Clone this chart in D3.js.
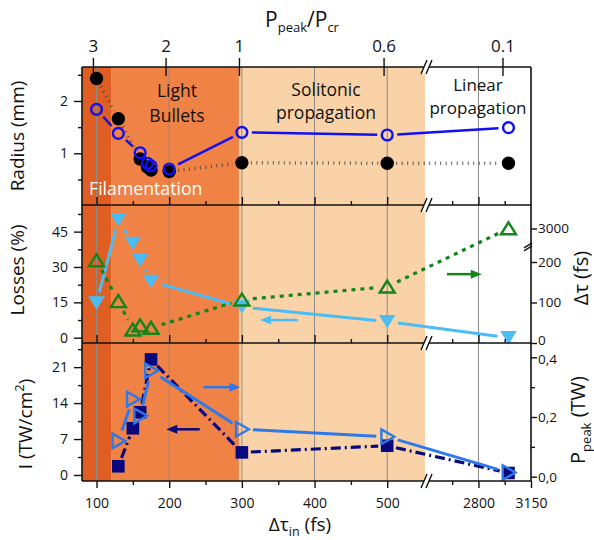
<!DOCTYPE html>
<html><head><meta charset="utf-8">
<script src="https://cdn.jsdelivr.net/npm/d3@7"></script>
<style>
body{margin:0;background:#fff}
svg{display:block}
text{font-family:"Open Sans",sans-serif;fill:#111}
</style>
</head><body>
<svg id="c" width="594" height="540"></svg>
<script>
// ---------------- data ----------------
// top panel: beam radius (mm)
const tRadius      = [100, 130, 160, 170, 175, 200, 300, 500, 3000];
const radiusBlack  = [2.43, 1.66, 0.89, 0.74, 0.68, 0.65, 0.82, 0.81, 0.81];
const radiusBlue   = [1.84, 1.38, 1.01, 0.81, 0.76, 0.70, 1.40, 1.35, 1.49];
// middle panel: losses (%) and output duration (fs)
const tMid         = [100, 130, 150, 160, 175, 300, 500, 3000];
const losses       = [14.7, 50.0, 40.0, 32.8, 23.9, 13.0, 6.8, 0.0];
const dtauOut      = [204, 103, 33, 43, 37, 107, 139, 3000];
// bottom panel: intensity (TW/cm2) and peak power (TW)
const tBot         = [130, 150, 160, 175, 300, 500, 3000];
const intensity    = [1.7, 9.1, 12.2, 22.5, 4.4, 5.7, 0.39];
const ppeak        = [0.12, 0.26, 0.204, 0.355, 0.159, 0.134, 0.014];
// axes ticks
const xMajor       = [100, 200, 300, 400, 500, 2800, 3150];
const xMinor       = [150, 250, 350, 450, 2625, 2975];
const gridT        = [100, 200, 300, 400, 500, 2800];
const pTopT        = [95, 195, 296, 495, 2960];
const pTopLabels   = ["3", "2", "1", "0.6", "0.1"];
const radiusTicks  = [1, 2];
const radiusMinor  = [0.5, 1.5, 2.5];
const lossTicks    = [0, 15, 30, 45];
const lossMinor    = [7.5, 22.5, 37.5, 52.5];
const dtauTicks    = [0, 100, 200, 3000];
const iTicks       = [0, 7, 14, 21];
const iMinor       = [3.5, 10.5, 17.5, 24.5];
const pTicks       = [0, 0.2, 0.4];
const pMinor       = [0.1, 0.3];
// regions
const regionStart  = [80, 120, 296];
const regionEnd    = [120, 296, 552];
const regionColor  = ["#E05E22", "#EF8244", "#F9D3A7"];

// ---------------- layout / scales ----------------
const X0 = 82, X1 = 531, T0 = 67, B1 = 205, B2 = 343, B3 = 481;
const svg = d3.select("#c");
const x  = d3.scaleLinear().domain([80, 552, 2444, 3150]).range([82, 425, 425, 531]);
const yR = d3.scaleLinear().domain([0, 2.64]).range([205.6, 67.5]);
const yL = d3.scaleLinear().domain([-2.25, 56.3]).range([343, 205]);
const yD = d3.scaleLinear().domain([0, 240, 2958, 3057]).range([343, 245.8, 245.8, 205]);
const yI = d3.scaleLinear().domain([-1.17, 25.7]).range([481, 343]);
const yP = d3.scaleLinear().domain([-0.0144, 0.448]).range([481, 343]);

const C = {
  blue: "#1010F2", black: "#000", light: "#4CBDF4", green: "#12861A",
  navy: "#08087E", tri: "#2E79EA"
};
const plain = (d) => String(d);

// backgrounds
svg.append("g").selectAll("rect").data(regionStart).join("rect")
  .attr("x", (d) => x(d)).attr("y", T0)
  .attr("width", (d, i) => x(regionEnd[i]) - x(d)).attr("height", B3 - T0)
  .attr("fill", (d, i) => regionColor[i]);

// grid lines
svg.append("g").selectAll("line").data(gridT).join("line")
  .attr("x1", (d) => x(d)).attr("x2", (d) => x(d)).attr("y1", T0).attr("y2", B3)
  .attr("stroke", "#8c8c8c").attr("stroke-width", 1);

// region texts
function label(lines, cx, y0, dy, size, color) {
  const t = svg.append("text").attr("text-anchor", "middle")
    .attr("font-size", size).style("fill", color || "#111");
  lines.forEach((s, i) => t.append("tspan").attr("x", cx).attr("y", y0 + i * dy).text(s));
}
label(["Light", "Bullets"], 177, 97, 25, 17.5);
label(["Solitonic", "propagation"], 326, 96, 23, 17.5);
label(["Linear", "propagation"], 478, 91, 23, 17);
svg.append("text").attr("x", 89).attr("y", 195).attr("font-size", 17.7)
  .style("fill", "#fff").text("Filamentation");

// ---------------- helpers ----------------
function gapLine(ts, vs, ys, gap, stroke, width, dash, dashOpacity) {
  const pts = ts.map((t, i) => [x(t), ys(vs[i])]);
  const g = svg.append("g");
  for (let i = 0; i < pts.length - 1; i++) {
    const [x1, y1] = pts[i], [x2, y2] = pts[i + 1];
    const L = Math.hypot(x2 - x1, y2 - y1);
    if (L <= 2 * gap + 1) continue;
    const ux = (x2 - x1) / L, uy = (y2 - y1) / L;
    g.append("line")
      .attr("x1", x1 + ux * gap).attr("y1", y1 + uy * gap)
      .attr("x2", x2 - ux * gap).attr("y2", y2 - uy * gap)
      .attr("stroke", stroke).attr("stroke-width", width)
      .attr("stroke-dasharray", dash || null)
      .attr("stroke-opacity", dashOpacity || 1);
  }
}
function arrow(t1, v1, t2, v2, ys, color) {
  const x1 = x(t1), y1 = ys(v1), x2 = x(t2), y2 = ys(v2);
  const dir = Math.sign(x2 - x1);
  svg.append("line").attr("x1", x1).attr("y1", y1).attr("x2", x2 - dir * 8).attr("y2", y2)
    .attr("stroke", color).attr("stroke-width", 2.5);
  svg.append("path")
    .attr("d", `M${x2},${y2} L${x2 - dir * 11},${y2 - 4.5} L${x2 - dir * 11},${y2 + 4.5} Z`)
    .attr("fill", color);
}

// ---------------- top panel ----------------
gapLine(tRadius, radiusBlack, yR, 9, "#444", 3.5, "1,4.5", 0.85);
gapLine(tRadius, radiusBlue, yR, 10, C.blue, 2.5);
svg.append("g").selectAll("circle").data(tRadius).join("circle")
  .attr("cx", (d) => x(d)).attr("cy", (d, i) => yR(radiusBlack[i])).attr("r", 6.7)
  .attr("fill", C.black);
svg.append("g").selectAll("circle").data(tRadius).join("circle")
  .attr("cx", (d) => x(d)).attr("cy", (d, i) => yR(radiusBlue[i])).attr("r", 5.4)
  .attr("fill", "none").attr("stroke", C.blue).attr("stroke-width", 2.4);

// ---------------- middle panel ----------------
gapLine(tMid, losses, yL, 11, C.light, 3);
gapLine(tMid, dtauOut, yD, 11, C.green, 3.2, "4,5");
svg.append("g").selectAll("path").data(tMid).join("path")
  .attr("transform", (d, i) => `translate(${x(d)},${yL(losses[i])})`)
  .attr("d", "M-8.3,-6.7 L8.3,-6.7 L0,6.7 Z").attr("fill", C.light);
svg.append("g").selectAll("path").data(tMid).join("path")
  .attr("transform", (d, i) => `translate(${x(d)},${yD(dtauOut[i])})`)
  .attr("d", "M-7.5,5.8 L7.5,5.8 L0,-6.2 Z").attr("fill", "none")
  .attr("stroke", C.green).attr("stroke-width", 2.4).attr("stroke-linejoin", "miter");
arrow(377, 7.5, 325, 7.5, yL, C.light);
arrow(2590, 170, 2822, 170, yD, C.green);

// ---------------- bottom panel ----------------
gapLine(tBot, intensity, yI, 9, C.navy, 3.2, "10,4,2,4");
gapLine(tBot, ppeak, yP, 11, C.tri, 3);
svg.append("g").selectAll("rect").data(tBot).join("rect")
  .attr("x", (d) => x(d) - 6.3).attr("y", (d, i) => yI(intensity[i]) - 6.3)
  .attr("width", 12.6).attr("height", 12.6).attr("fill", C.navy);
svg.append("g").selectAll("path").data(tBot).join("path")
  .attr("transform", (d, i) => `translate(${x(d)},${yP(ppeak[i])})`)
  .attr("d", "M-5.8,-7.3 L-5.8,7.3 L7,0 Z").attr("fill", "none")
  .attr("stroke", C.tri).attr("stroke-width", 2.4);
arrow(247, 0.30, 298, 0.30, yP, C.tri);
arrow(242, 8.9, 196, 8.9, yI, C.navy);

// ---------------- axes ----------------
function styleAxis(g, size) {
  g.select(".domain").remove();
  g.selectAll(".tick line").attr("stroke", "#111").attr("stroke-width", 1.4);
  g.selectAll(".tick text").attr("font-size", size || 14).style("fill", "#111")
    .attr("font-family", '"Open Sans",sans-serif');
  return g;
}
function leftAxis(scale, major, minor) {
  styleAxis(svg.append("g").attr("transform", `translate(${X0},0)`)
    .call(d3.axisLeft(scale).tickValues(major).tickSize(8).tickPadding(6).tickFormat(plain)));
  styleAxis(svg.append("g").attr("transform", `translate(${X0},0)`)
    .call(d3.axisLeft(scale).tickValues(minor).tickSize(4).tickFormat("")));
}
leftAxis(yR, radiusTicks, radiusMinor);
leftAxis(yL, lossTicks, lossMinor);
leftAxis(yI, iTicks, iMinor);

const dAx = styleAxis(svg.append("g").attr("transform", `translate(${X1},0)`)
  .call(d3.axisRight(yD).tickValues(dtauTicks).tickSize(6).tickPadding(1).tickFormat(plain)), 13.5);
dAx.selectAll(".tick text").filter((d) => d === 0).attr("dy", "0.1em");
const pAx = styleAxis(svg.append("g").attr("transform", `translate(${X1},0)`)
  .call(d3.axisRight(yP).tickValues(pTicks).tickSize(6).tickPadding(1)
    .tickFormat((d) => d3.format(".1f")(d).replace(".", ","))), 13.5);
pAx.selectAll(".tick text").filter((d) => d === 0.4).attr("dy", "0.45em");
styleAxis(svg.append("g").attr("transform", `translate(${X1},0)`)
  .call(d3.axisRight(yP).tickValues(pMinor).tickSize(4).tickFormat("")));

// x ticks inward on the panel separators
[B1, B2].forEach((yy) => {
  styleAxis(svg.append("g").attr("transform", `translate(0,${yy})`)
    .call(d3.axisTop(x).tickValues(xMajor.slice(0, 6)).tickSize(8).tickFormat("")));
  styleAxis(svg.append("g").attr("transform", `translate(0,${yy})`)
    .call(d3.axisTop(x).tickValues(xMinor).tickSize(4).tickFormat("")));
});
// bottom axis
styleAxis(svg.append("g").attr("transform", `translate(0,${B3})`)
  .call(d3.axisBottom(x).tickValues(xMajor).tickSize(7).tickPadding(10).tickFormat(plain)));
styleAxis(svg.append("g").attr("transform", `translate(0,${B3})`)
  .call(d3.axisBottom(x).tickValues(xMinor).tickSize(4).tickFormat("")));
// top axis P_peak / P_cr
styleAxis(svg.append("g").attr("transform", `translate(0,${T0})`)
  .call(d3.axisTop(x).tickValues(pTopT).tickSize(9).tickPadding(6)
    .tickFormat((d, i) => pTopLabels[i])), 17);
styleAxis(svg.append("g").attr("transform", `translate(0,${T0})`)
  .call(d3.axisBottom(x).tickValues(pTopT).tickSize(9).tickFormat("")));

// frame
const frame = svg.append("g").attr("stroke", "#111").attr("stroke-width", 1.6);
[T0, B1, B2, B3].forEach((yy) =>
  frame.append("line").attr("x1", X0).attr("x2", X1).attr("y1", yy).attr("y2", yy));
frame.append("line").attr("x1", X0).attr("x2", X0).attr("y1", T0).attr("y2", B3);
frame.append("line").attr("x1", X1).attr("x2", X1).attr("y1", T0).attr("y2", B3);

// break marks on x axes
[T0, B1, B2, B3].forEach((yy) => {
  const cx = x(552) + 3;
  svg.append("path").attr("d", `M${cx - 7},${yy + 7} L${cx - 1},${yy - 7} L${cx + 4},${yy - 7} L${cx - 2},${yy + 7} Z`)
    .attr("fill", "#fff");
  svg.append("path").attr("d", `M${cx - 7},${yy + 7} L${cx - 1},${yy - 7} M${cx - 2},${yy + 7} L${cx + 4},${yy - 7}`)
    .attr("stroke", "#111").attr("stroke-width", 1.4);
});
// break mark on right Δτ axis
{
  const yb = yD(240);
  svg.append("path").attr("d", `M${X1 - 7},${yb + 2} L${X1 + 1},${yb - 3} M${X1 - 7},${yb + 5} L${X1 + 1},${yb}`)
    .attr("stroke", "#111").attr("stroke-width", 1.4);
}

// ---------------- titles ----------------
const tt = svg.append("text").attr("x", 302).attr("y", 27).attr("text-anchor", "middle").attr("font-size", 21);
tt.append("tspan").text("P");
tt.append("tspan").attr("dy", 5).attr("font-size", 13).text("peak");
tt.append("tspan").attr("dy", -5).text("/P");
tt.append("tspan").attr("dy", 5).attr("font-size", 13).text("cr");

const bt = svg.append("text").attr("x", 300).attr("y", 531).attr("text-anchor", "middle").attr("font-size", 19);
bt.append("tspan").text("Δτ");
bt.append("tspan").attr("dy", 5).attr("font-size", 12.5).text("in");
bt.append("tspan").attr("dy", -5).text(" (fs)");

function vtitle(xx, yy, build) {
  const t = svg.append("text").attr("transform", `translate(${xx},${yy}) rotate(-90)`)
    .attr("text-anchor", "middle").attr("font-size", 19);
  build(t);
}
vtitle(24, 136, (t) => t.text("Radius (mm)"));
vtitle(24, 270, (t) => t.text("Losses (%)"));
vtitle(32, 424, (t) => {
  t.append("tspan").text("I (TW/cm");
  t.append("tspan").attr("dy", -8).attr("font-size", 13).text("2");
  t.append("tspan").attr("dy", 8).text(")");
});
vtitle(588, 278, (t) => t.attr("font-size", 20).text("Δτ (fs)"));
vtitle(585, 420, (t) => {
  t.attr("font-size", 20);
  t.append("tspan").text("P");
  t.append("tspan").attr("dy", 6).attr("font-size", 13).text("peak");
  t.append("tspan").attr("dy", -6).text(" (TW)");
});
</script>
</body></html>
